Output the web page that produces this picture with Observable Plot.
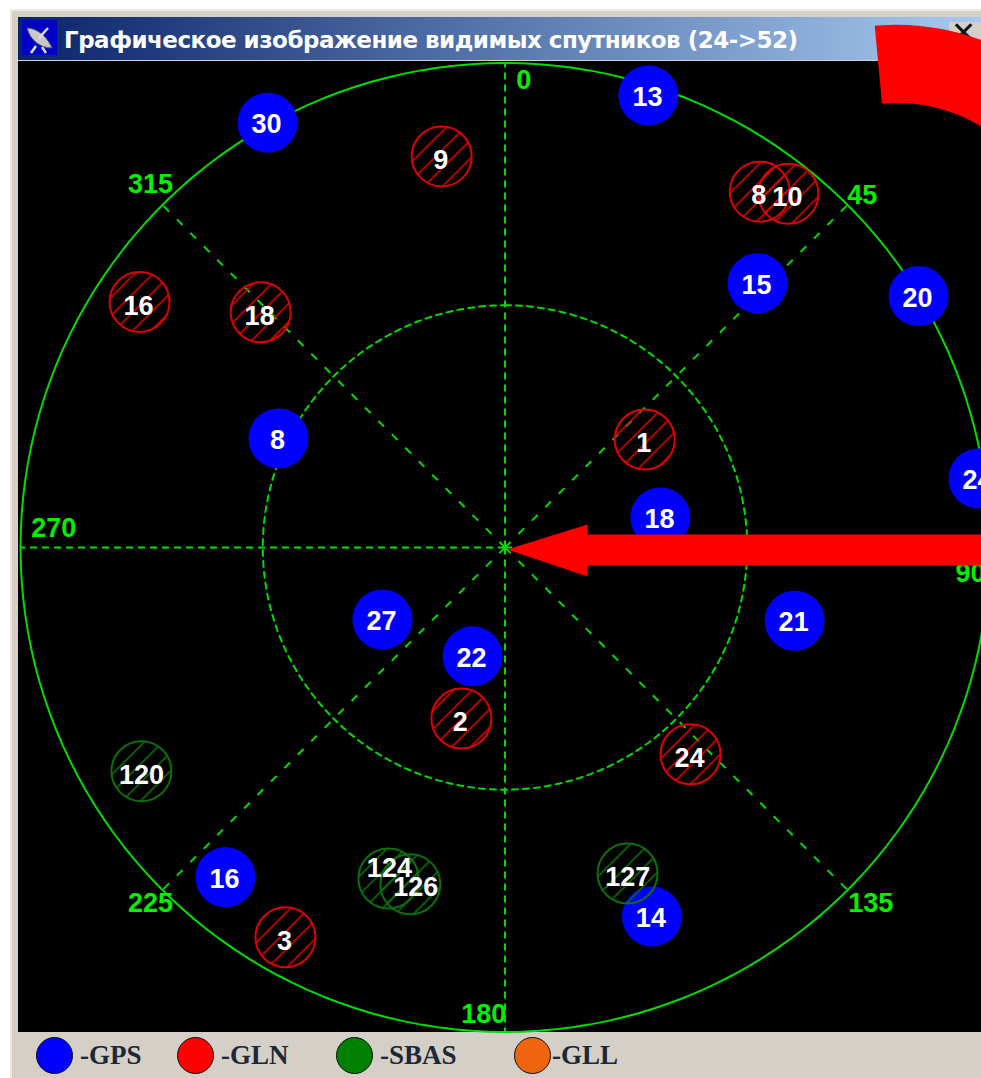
<!DOCTYPE html>
<html><head><meta charset="utf-8">
<script src="https://cdn.jsdelivr.net/npm/d3@7"></script>
<script src="https://cdn.jsdelivr.net/npm/@observablehq/plot@0.6"></script>
<style>
html,body{margin:0;padding:0;width:981px;height:1078px;overflow:hidden;background:#fff}
.abs{position:absolute}
#frame{left:10px;top:9px;width:971px;height:1069px;background:#d4d0c8;border-left:2px solid #ece9e2;border-top:2px solid #ece9e2;box-sizing:border-box}
#bar{left:18px;top:17px;width:963px;height:43px;background:linear-gradient(90deg,#0a246a,#a6caf0)}
#title{left:64px;top:23px;font:bold 23px/34px "DejaVu Sans";color:#fff;white-space:nowrap;letter-spacing:-.5px}
#btn{left:949px;top:22px;width:32px;height:30px;background:#d4d0c8;font:bold 30px/22px "DejaVu Sans";color:#111;text-indent:2px}
#screen{left:18px;top:61px;width:963px;height:971px;background:#000}
.sw{width:37px;height:37px;border-radius:50%;border:1.5px solid #111;box-sizing:border-box;top:1037px}
.lg{top:1038px;font:bold 27px/34px "Liberation Serif";color:#1c2836;white-space:nowrap}
</style></head>
<body>
<div class="abs" id="frame"></div>
<div class="abs" id="bar"></div>
<svg class="abs" style="left:22px;top:20px" width="35" height="35" viewBox="0 0 35 35">
  <rect width="35" height="35" fill="#0000c8"/>
  <path d="M5 8 C 8 20,18 28,30 28 C 26 18,16 8,5 8Z" fill="#c8c8c8" stroke="#555"/>
  <path d="M17 18L26 8M14 26L9 33M20 27L24 33" stroke="#ddd" stroke-width="2.5"/>
</svg>
<div class="abs" id="title">Графическое изображение видимых спутников (24-&gt;52)</div>
<div class="abs" id="btn">✕</div>
<div class="abs" id="screen"></div>
<div id="legend"></div>
<div id="chart"></div>
<script>
// Satellites: azimuth (degrees) and distance from centre (90 = rim)
const gpsIds  = ["30","13","15","20","24","8","18","27","22","21","16","14"];
const gpsAz   = [330.8,17.6,43.7,58.7,81.7,295.7,79.1,239.6,196.6,104.2,220.3,158.3];
const gpsDist = [90.4,88.1,67.9,89.9,88.9,46.7,29.4,26.4,21.1,55.5,80.3,73.8];

const glnIds  = ["9","8","10","16","18","1","2","24","3"];
const glnAz   = [350.8,35.6,38.7,303.9,313.9,52.3,194.3,138.1,209.4];
const glnDist = [73.6,81.3,84.2,81.8,63,32.8,32.8,51.6,83.1];

const sbasIds  = ["120","124","126","127"];
const sbasAz   = [238.4,199.4,195.7,159.4];
const sbasDist = [79.3,65.2,65,64.7];
// The SBAS numbers sit off their circles in the picture
const sbasLabelAz   = [237.9,199.8,194.7,159.6];
const sbasLabelDist = [79.7,63.4,65.3,65.4];

// Grid
const spokeOrtho = [0,90,180,270];
const spokeDiag  = [45,135,225,315];
const gridLabels = ["0","45","90","135","180","225","270","315"];
const labelAz    = [2.3,45.4,93.2,134.2,182.6,224.9,272.4,315.7];
const labelDist  = [86.8,93.2,86.6,94.8,86.8,93.3,83.9,94.3];

// Red course arrow and the arc overlay
const arrowX = [0.46,15.33,15.33,89.3,89.3,15.33,15.33];
const arrowY = [-0.37,4.27,2.41,2.41,-3.34,-3.34,-5.39];
const arcAz  = [-5.3,0,5,10,15,20,25,30,35,40];

// Legend
const legendNames  = ["-GPS","-GLN","-SBAS","-GLL"];
const legendColors = ["#0000ff","#ff0000","#008000","#f0640f"];

const k = 5.383, cx = 504.5, cy = 547, W = 981, H = 1078;
const rad = d => d * Math.PI / 180;
const polar = (ids, az, dist) => ids.map((id, i) => ({
  id, x: dist[i] * Math.sin(rad(az[i])), y: dist[i] * Math.cos(rad(az[i]))
}));
const gps = polar(gpsIds, gpsAz, gpsDist);
const gln = polar(glnIds, glnAz, glnDist);
const sbas = polar(sbasIds, sbasAz, sbasDist);
const sbasLabels = polar(sbasIds, sbasLabelAz, sbasLabelDist);
const labels = polar(gridLabels, labelAz, labelDist);
const ring = d3.range(0, 361, 2);
const ringPts = r => ring.map(a => ({x: r * Math.sin(rad(a)), y: r * Math.cos(rad(a))}));
const spokes = az => az.map(a => ({x: 90 * Math.sin(rad(a)), y: 90 * Math.cos(rad(a))}));
const arc = arcAz.map(a => ({
  x1: 72.9 + 30.1 * Math.sin(rad(a)), y1: 52.4 + 30.1 * Math.cos(rad(a)),
  x2: 72.9 + 44.6 * Math.sin(rad(a)), y2: 52.4 + 44.6 * Math.cos(rad(a))
}));
const arrow = arrowX.map((x, i) => ({x, y: arrowY[i]}));

const numFont = {fontFamily: "Liberation Sans", fontWeight: 700, fontSize: 27};
const GREEN = "#00dc00";

const defs = () => {
  const s = d3.create("svg:defs");
  [["hatchRed", "#e00000"], ["hatchGreen", "#0a700a"]].forEach(([id, c]) => {
    s.append("pattern").attr("id", id).attr("patternUnits", "userSpaceOnUse")
      .attr("width", 13).attr("height", 13).attr("patternTransform", "rotate(-45)")
      .append("line").attr("x1", 0).attr("x2", 13).attr("y1", 2).attr("y2", 2)
      .attr("stroke", c).attr("stroke-width", 1.6);
  });
  return s.node();
};

const sats = (data, fill, stroke, textOpts, labelData = data) => [
  Plot.dot(data, {x: "x", y: "y", r: 30, fill, stroke, strokeWidth: stroke === "none" ? 0 : 2}),
  Plot.text(labelData, {x: "x", y: "y", text: "id", fill: "#fff", ...textOpts, ...numFont})
];

const chart = Plot.plot({
  width: W, height: H, margin: 0,
  x: {domain: [-cx / k, (W - cx) / k], range: [0, W], axis: null},
  y: {domain: [cy / k, (cy - H) / k], range: [0, H], axis: null},
  style: {background: "transparent", position: "absolute", left: "0", top: "0"},
  marks: [
    defs,
    Plot.line(ringPts(90), {x: "x", y: "y", stroke: GREEN, strokeWidth: 2}),
    Plot.line(ringPts(45), {x: "x", y: "y", stroke: GREEN, strokeWidth: 2, strokeDasharray: "6 5"}),
    Plot.link(spokes(spokeOrtho), {x1: 0, y1: 0, x2: "x", y2: "y", stroke: GREEN, strokeWidth: 2, strokeDasharray: "7 5"}),
    Plot.link(spokes(spokeDiag), {x1: 0, y1: 0, x2: "x", y2: "y", stroke: GREEN, strokeWidth: 2, strokeDasharray: "8 11"}),
    Plot.text(labels, {x: "x", y: "y", text: "id", fill: "#00f000", ...numFont}),
    ...sats(gps, "#0000ff", "none", {dx: -1, dy: 2}),
    ...sats(gln, "url(#hatchRed)", "#e00000", {dx: -1, dy: 4}),
    ...sats(sbas, "url(#hatchGreen)", "#0a700a", {}, sbasLabels),
    Plot.area(arc, {x1: "x1", y1: "y1", x2: "x2", y2: "y2", fill: "#ff0000", curve: "catmull-rom"}),
    Plot.line(arrow, {x: "x", y: "y", fill: "#ff0000", stroke: "none"})
  ]
});
document.getElementById("chart").append(chart);

// Legend row below the scope
const swatchLeft = [36, 177, 336, 514];
const textLeft = [80, 221, 380, 552];
const lg = document.getElementById("legend");
legendNames.forEach((n, i) => {
  const s = document.createElement("div");
  s.className = "abs sw"; s.style.left = swatchLeft[i] + "px"; s.style.background = legendColors[i];
  const t = document.createElement("div");
  t.className = "abs lg"; t.style.left = textLeft[i] + "px"; t.textContent = n;
  lg.append(s, t);
});
</script>
</body></html>
